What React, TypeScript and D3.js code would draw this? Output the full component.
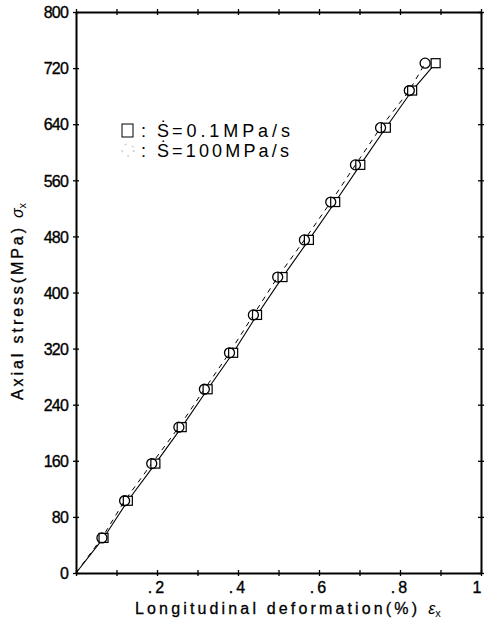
import React, { useEffect, useRef } from "react";
import * as d3 from "d3";

// stress levels (MPa) where both series were read
const stressLevels = [50, 103, 156, 208, 262, 314, 368, 422, 475, 529, 582, 635, 688, 727];
// longitudinal strain (%) for S = 0.1 MPa/s (squares, solid line)
const strainSlow = [0.068, 0.128, 0.196, 0.261, 0.325, 0.388, 0.447, 0.51, 0.575, 0.64, 0.702, 0.765, 0.83, 0.888];
// longitudinal strain (%) for S = 100 MPa/s (circles, dashed line)
const strainFast = [0.064, 0.12, 0.187, 0.254, 0.317, 0.379, 0.438, 0.498, 0.564, 0.629, 0.69, 0.752, 0.823, 0.862];

const yTicks = [0, 80, 160, 240, 320, 400, 480, 560, 640, 720, 800];
const xTicks = [0, 0.1, 0.2, 0.3, 0.4, 0.5, 0.6, 0.7, 0.8, 0.9, 1];
const xLabels = [".2", ".4", ".6", ".8", "1"];

const W = 484;
const H = 624;
const m = { left: 76, right: 3, top: 12, bottom: 51 };
const FONT = "'Liberation Sans', Arial, sans-serif";

export default function App() {
  const svgRef = useRef<SVGSVGElement>(null);

  useEffect(() => {
    const svg = d3.select(svgRef.current);
    svg.selectAll("*").remove();

    const x = d3.scaleLinear().domain([0, 1]).range([m.left, W - m.right]);
    const y = d3.scaleLinear().domain([0, 800]).range([H - m.bottom, m.top]);

    const slow = stressLevels.map((s, i) => ({ x: strainSlow[i], y: s }));
    const fast = stressLevels.map((s, i) => ({ x: strainFast[i], y: s }));

    // axes, ticks drawn as little crosses on the frame
    const crossTicks = (g, vertical) => {
      g.select(".domain").attr("stroke-width", 2);
      g.selectAll(".tick line")
        .attr("stroke-width", 1.3)
        .attr(vertical ? "x1" : "y1", -3)
        .attr(vertical ? "x2" : "y2", 3);
    };

    const yAxis = svg.append("g")
      .attr("transform", `translate(${m.left},0)`)
      .call(d3.axisLeft(y).tickValues(yTicks).tickSizeOuter(0).tickPadding(2).tickFormat(d3.format("d")));
    crossTicks(yAxis, true);
    yAxis.selectAll(".tick text")
      .attr("font-family", FONT)
      .attr("font-size", 16)
      .attr("letter-spacing", -0.8)
      .attr("fill", "#000")
      .attr("stroke", "#000")
      .attr("stroke-width", 0.35)
      .attr("dy", "0.36em");

    svg.append("g")
      .attr("transform", `translate(${W - m.right},0)`)
      .call(d3.axisRight(y).tickValues(yTicks).tickSizeOuter(0).tickFormat(() => ""))
      .call((g) => crossTicks(g, true));

    svg.append("g")
      .attr("transform", `translate(0,${m.top})`)
      .call(d3.axisTop(x).tickValues(xTicks).tickSizeOuter(0).tickFormat(() => ""))
      .call((g) => crossTicks(g, false));

    const xAxis = svg.append("g")
      .attr("transform", `translate(0,${H - m.bottom})`)
      .call(
        d3.axisBottom(x).tickValues(xTicks).tickSizeOuter(0).tickPadding(3)
          .tickFormat((d) => {
            const i = [0.2, 0.4, 0.6, 0.8, 1].indexOf(+d);
            return i >= 0 ? xLabels[i] : "";
          })
      );
    crossTicks(xAxis, false);
    xAxis.selectAll(".tick text")
      .attr("font-family", FONT)
      .attr("font-size", 16)
      .attr("letter-spacing", 3)
      .attr("fill", "#000")
      .attr("stroke", "#000")
      .attr("stroke-width", 0.35);
    xAxis.selectAll(".tick text").filter((d) => +d === 1).attr("text-anchor", "end").attr("dx", 3);

    // fitted lines from the origin
    const lineGen = d3.line<{ x: number; y: number }>().x((d) => x(d.x)).y((d) => y(d.y));
    svg.append("path")
      .datum([{ x: 0, y: 0 }, ...slow])
      .attr("d", lineGen)
      .attr("fill", "none")
      .attr("stroke", "#000")
      .attr("stroke-width", 1.1);
    svg.append("path")
      .datum([{ x: 0, y: 0 }, ...fast])
      .attr("d", lineGen)
      .attr("fill", "none")
      .attr("stroke", "#000")
      .attr("stroke-width", 1)
      .attr("stroke-dasharray", "5,5");

    // markers
    svg.append("g").selectAll("rect")
      .data(slow)
      .join("rect")
      .attr("x", (d) => x(d.x) - 4.5)
      .attr("y", (d) => y(d.y) - 4.5)
      .attr("width", 9)
      .attr("height", 9)
      .attr("fill", "#fff")
      .attr("stroke", "#000")
      .attr("stroke-width", 1.2);
    svg.append("g").selectAll("circle")
      .data(fast)
      .join("circle")
      .attr("cx", (d) => x(d.x))
      .attr("cy", (d) => y(d.y))
      .attr("r", 5)
      .attr("fill", "none")
      .attr("stroke", "#000")
      .attr("stroke-width", 1.3);

    // legend
    const lg = svg.append("g").attr("font-family", FONT).attr("font-size", 18).attr("fill", "#000");
    lg.append("rect")
      .attr("x", 122).attr("y", 124).attr("width", 11).attr("height", 13)
      .attr("fill", "none").attr("stroke", "#000").attr("stroke-width", 1);
    lg.append("circle")
      .attr("cx", 128).attr("cy", 150).attr("r", 6)
      .attr("fill", "none").attr("stroke", "#aaa").attr("stroke-width", 1)
      .attr("stroke-dasharray", "2,6");
    [
      { y: 137, rate: "=0.1MPa/s", len: 118 },
      { y: 157, rate: "=100MPa/s", len: 117 },
    ].forEach((row) => {
      const t = lg.append("text").attr("y", row.y);
      t.append("tspan").attr("x", 141).text(":");
      t.append("tspan").attr("x", 157).text("Ṡ");
      t.append("tspan").attr("x", 172).attr("textLength", row.len).attr("lengthAdjust", "spacing").text(row.rate);
    });

    // axis titles
    const xt = svg.append("text")
      .attr("x", 135).attr("y", 614)
      .attr("font-family", FONT).attr("font-size", 16).attr("fill", "#000")
      .attr("stroke", "#000").attr("stroke-width", 0.3);
    xt.append("tspan").attr("textLength", 282).attr("lengthAdjust", "spacing").text("Longitudinal deformation(%)");
    xt.append("tspan").attr("dx", 8).attr("font-style", "italic").attr("stroke-width", 0).text("ε");
    xt.append("tspan").attr("font-size", 11).attr("dy", 3).attr("stroke-width", 0).text("x");

    const yt = svg.append("text")
      .attr("transform", "translate(23,400) rotate(-90)")
      .attr("font-family", FONT).attr("font-size", 16).attr("fill", "#000")
      .attr("stroke", "#000").attr("stroke-width", 0.3);
    yt.append("tspan").attr("textLength", 172).attr("lengthAdjust", "spacing").text("Axial stress(MPa)");
    yt.append("tspan").attr("dx", 7).attr("font-style", "italic").attr("stroke-width", 0).text("σ");
    yt.append("tspan").attr("font-size", 11).attr("dy", 3).attr("stroke-width", 0).text("x");
  }, []);

  return (
    <svg
      ref={svgRef}
      width={W}
      height={H}
      style={{ position: "absolute", left: 0, top: 0, background: "#fff" }}
    />
  );
}
